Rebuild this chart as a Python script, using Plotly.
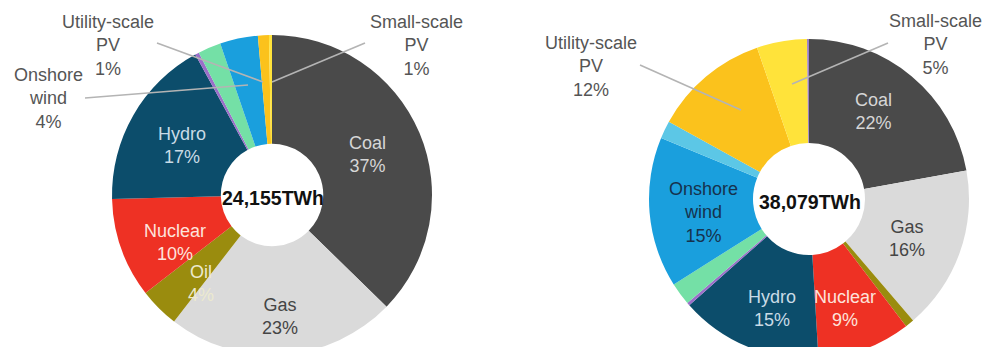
import plotly.graph_objects as go

W, H = 1000, 359

# ---------------- data ----------------
sources = ["Coal", "Gas", "Oil", "Nuclear", "Hydro", "Other", "Bioenergy",
           "Onshore wind", "Offshore wind", "Utility-scale PV", "Small-scale PV",
           "Other renewables"]
display_names = ["Coal", "Gas", "Oil", "Nuclear", "Hydro", "Other", "Bioenergy",
                 "Onshore<br>wind", "Offshore<br>wind", "Utility-scale<br>PV",
                 "Small-scale<br>PV", "Other renewables"]

# slice sizes (share of generation, %)
left_values = [37, 23, 4, 10, 17.3, 0.4, 2.3, 3.8, 0, 1.1, 0.3, 0]
right_values = [22.3, 16.7, 0.9, 9.5, 14.5, 0.3, 2.3, 15.3, 1.8, 11.8, 5.1, 0.2]

# printed shares (%), None = not labelled
left_shares = [37, 23, 4, 10, 17, None, None, 4, None, 1, 1, None]
right_shares = [22, 16, None, 9, 15, None, None, 15, None, 12, 5, None]

left_total = "24,155TWh"
right_total = "38,079TWh"

# ---------------- styles ----------------
colors = ["#4a4a4a", "#dadada", "#9a8c0e", "#ee3124", "#0c4d6b", "#9b6fc9",
          "#74e0a6", "#1a9fdd", "#5cc7e6", "#fbc21c", "#ffe33a", "#9b7fc9"]

FONT = "Liberation Sans, Arial, Helvetica, sans-serif"
OUT_GRAY = "#555555"
LINE_GRAY = "#b4b4b4"

# label placement (pixel centre, text colour) per chart
left_label_style = {
    "Coal": (367, 155, "#d6d6d6"),
    "Gas": (280, 316, "#454545"),
    "Oil": (201, 283, "#ece9cf"),
    "Nuclear": (175, 242, "#fde3dc"),
    "Hydro": (182, 145, "#c9dbe6"),
    "Onshore wind": (48, 98, OUT_GRAY),
    "Utility-scale PV": (108, 45, OUT_GRAY),
    "Small-scale PV": (416, 45, OUT_GRAY),
}
right_label_style = {
    "Coal": (873, 111, "#d6d6d6"),
    "Gas": (907, 238, "#454545"),
    "Nuclear": (845, 308, "#fde3dc"),
    "Hydro": (772, 308, "#c9dbe6"),
    "Onshore wind": (703, 212, "#16324d"),
    "Utility-scale PV": (591, 66, OUT_GRAY),
    "Small-scale PV": (935, 44, OUT_GRAY),
}
# leader lines (pixel from -> pixel to)
leader_lines = [
    ((85, 98), (248, 85)),
    ((157, 43), (263, 82)),
    ((365, 43), (272, 82)),
    ((640, 65), (741, 110)),
    ((888, 43), (792, 84)),
]

R = 160
left_center = (272, 195)
right_center = (809, 199)


def px(x):
    return x / W


def py(y):
    return 1 - y / H


def domain(center):
    cx, cy = center
    return dict(x=[px(cx - R), px(cx + R)],
                y=[max(0, py(cy + R)), min(1, py(cy - R))])


fig = go.Figure()
for vals, center, hole in [(left_values, left_center, 0.32),
                           (right_values, right_center, 0.35)]:
    fig.add_trace(go.Pie(
        labels=sources, values=vals, sort=False, direction="clockwise",
        rotation=0, hole=hole, domain=domain(center),
        marker=dict(colors=colors, line=dict(width=0)),
        textinfo="none", hoverinfo="label+percent", showlegend=False,
    ))

annotations = []
for shares, style in [(left_shares, left_label_style),
                      (right_shares, right_label_style)]:
    for name, disp, share in zip(sources, display_names, shares):
        if share is None or name not in style:
            continue
        x, y, col = style[name]
        annotations.append(dict(
            x=px(x), y=py(y), xref="paper", yref="paper",
            text=f"{disp}<br>{share}%", showarrow=False,
            xanchor="center", yanchor="middle",
            font=dict(family=FONT, size=18, color=col),
        ))

for total, center in [(left_total, left_center), (right_total, right_center)]:
    annotations.append(dict(
        x=px(center[0] + 1), y=py(center[1] + 3), xref="paper", yref="paper",
        text=f"<b>{total}</b>", showarrow=False,
        xanchor="center", yanchor="middle",
        font=dict(family=FONT, size=19.5, color="#111111"),
    ))

shapes = []
for (x0, y0), (x1, y1) in leader_lines:
    shapes.append(dict(type="line", xref="paper", yref="paper",
                       x0=px(x0), y0=py(y0), x1=px(x1), y1=py(y1),
                       line=dict(color=LINE_GRAY, width=1.6), layer="above"))
# the source image is cropped just above the bottom of the rings
shapes.append(dict(type="rect", xref="paper", yref="paper",
                   x0=0, x1=1, y0=0, y1=py(347),
                   fillcolor="white", line=dict(width=0), layer="above"))

fig.update_layout(
    width=W, height=H, margin=dict(l=0, r=0, t=0, b=0),
    paper_bgcolor="white", plot_bgcolor="white",
    annotations=annotations, shapes=shapes, showlegend=False,
)

fig.write_html(
    "out.html",
    config={"displayModeBar": False},
    post_script="document.body.style.margin='0';document.body.style.overflow='hidden';",
)
